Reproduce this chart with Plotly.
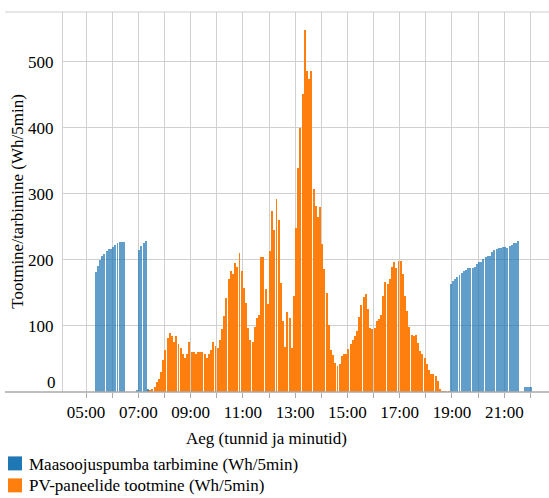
import plotly.graph_objects as go
import pandas as pd

DAY = "2021-06-01"

# --- Data: values every 5 minutes (Wh/5min) ---
# Heat pump consumption, in contiguous blocks (start time, values)
heat_block1_start = "05:20"
heat_block1 = [182, 190, 199, 206, 209, 214, 217, 217, 220, 222, 225, 227, 227, 227]
heat_block2_start = "06:55"
heat_block2 = [3, 215, 221, 226, 228, 4]
heat_block3_start = "18:55"
heat_block3 = [164, 168, 171, 174, 177, 180, 183, 185, 187, 188, 188, 189, 194, 197, 197, 201,
               204, 206, 206, 212, 215, 217, 218, 218, 220, 220, 218, 221, 223, 226, 226, 229]
heat_block4_start = "21:45"
heat_block4 = [8, 8, 8, 8]

# PV production starting 07:20
pv_start = "07:20"
pv_values = [3, 3, 4, 7, 15, 19, 31, 48, 63, 81, 90, 85, 75, 84, 72, 66, 57, 51, 57, 76,
             61, 60, 58, 61, 60, 60, 57, 52, 58, 64, 75, 70, 67, 79, 96, 115, 142, 171, 183, 179,
             195, 189, 210, 183, 158, 134, 97, 79, 76, 99, 112, 117, 204, 205, 156, 133,
             214, 274, 245, 292, 260, 165, 107, 68, 121, 112, 66, 146,
             248, 339, 399, 451, 548, 486, 474, 486, 307, 281, 265, 280,
             224, 186, 150, 102, 64, 56, 44, 40, 43, 55, 58, 58,
             65, 73, 78, 85, 93, 114, 131, 144, 149, 126, 97, 96,
             97, 108, 111, 116, 145, 166, 164, 171, 189, 196, 187, 198,
             198, 179, 145, 122, 98, 87, 84, 86, 74, 62, 58, 51,
             43, 34, 28, 28, 24, 16, 4, 2, 1, 1, 1]

hour_ticks = list(range(5, 23))
label_hours = [5, 7, 9, 11, 13, 15, 17, 19, 21]
y_ticks = [100, 200, 300, 400, 500]

heat_label = "Maasoojuspumba tarbimine (Wh/5min)"
pv_label = "PV-paneelide tootmine (Wh/5min)"
x_title = "Aeg (tunnid ja minutid)"
y_title = "Tootmine/tarbimine (Wh/5min)"

BLUE = "#1f77b4"
ORANGE = "#ff7f0e"
FONT = "Liberation Serif, Times New Roman, Times, DejaVu Serif, serif"
FS = 17


def block_times(start, n):
    return pd.date_range(f"{DAY} {start}", periods=n, freq="5min")


heat_x, heat_y = [], []
for s, vals in [(heat_block1_start, heat_block1), (heat_block2_start, heat_block2),
                (heat_block3_start, heat_block3), (heat_block4_start, heat_block4)]:
    heat_x += list(block_times(s, len(vals)))
    heat_y += vals
pv_x = list(block_times(pv_start, len(pv_values)))

W, H = 549, 498
L, R, T, B = 63, 549, 12, 392.5


def px(xp):
    return (xp - L) / (R - L)


def py(yp):
    return (B - yp) / (B - T)


FIVE_MIN_MS = 5 * 60 * 1000

fig = go.Figure()
fig.add_trace(go.Bar(x=pv_x, y=pv_values, name=pv_label, marker_color=ORANGE,
                     marker_line_width=0, width=FIVE_MIN_MS * 0.9, offset=0, showlegend=False))
fig.add_trace(go.Bar(x=heat_x, y=heat_y, name=heat_label, marker_color=BLUE, opacity=0.7,
                     marker_line_width=0, width=FIVE_MIN_MS * 0.9, offset=0, showlegend=False))

tickvals = [pd.Timestamp(f"{DAY} {h:02d}:00") for h in hour_ticks]
ticktext = [f"{h:02d}:00" if h in label_hours else "" for h in hour_ticks]

fig.update_layout(
    width=W, height=H,
    margin=dict(l=L, r=W - R, t=T, b=H - B, pad=0),
    paper_bgcolor="white", plot_bgcolor="white",
    barmode="overlay", bargap=0,
    font=dict(family=FONT, size=FS, color="#000"),
    xaxis=dict(
        type="date",
        range=[pd.Timestamp(f"{DAY} 04:07:12"), pd.Timestamp(f"{DAY} 22:42:40")],
        tickvals=tickvals, ticktext=ticktext,
        showgrid=True, gridcolor="#d0d0d0", gridwidth=1,
        ticks="outside", ticklen=5, tickcolor="#aaaaaa",
        showline=False, zeroline=False,
        tickfont=dict(family=FONT, size=FS, color="#000"),
    ),
    yaxis=dict(
        range=[0, 575], tickvals=y_ticks,
        showgrid=True, gridcolor="#d0d0d0", gridwidth=1,
        showline=True, linecolor="#d0d0d0", linewidth=1,
        ticks="", ticklabelstandoff=5, zeroline=False,
        tickfont=dict(family=FONT, size=FS, color="#000"),
    ),
    shapes=[
        dict(type="line", xref="paper", yref="paper", x0=px(5), x1=1, y0=py(12), y1=py(12),
             line=dict(color="#cccccc", width=1)),
        dict(type="line", xref="paper", yref="paper", x0=px(5), x1=1, y0=0, y1=0,
             line=dict(color="#aaaaaa", width=1.5)),
        dict(type="rect", xref="paper", yref="paper", x0=px(8), x1=px(22), y0=py(471), y1=py(457),
             fillcolor=BLUE, line_width=0),
        dict(type="rect", xref="paper", yref="paper", x0=px(8), x1=px(22), y0=py(493), y1=py(479),
             fillcolor=ORANGE, line_width=0),
    ],
    annotations=[
        dict(text="0", xref="paper", yref="paper", x=px(58), y=py(383), xanchor="right",
             yanchor="middle", showarrow=False, font=dict(size=FS)),
        dict(text=y_title, xref="paper", yref="paper", x=px(18), y=py(202), xanchor="center",
             yanchor="middle", textangle=-90, showarrow=False, font=dict(size=FS)),
        dict(text=x_title, xref="paper", yref="paper", x=px(266), y=py(439), xanchor="center",
             yanchor="middle", showarrow=False, font=dict(size=FS)),
        dict(text=heat_label, xref="paper", yref="paper", x=px(27), y=py(465), xanchor="left",
             yanchor="middle", showarrow=False, font=dict(size=FS)),
        dict(text=pv_label, xref="paper", yref="paper", x=px(27), y=py(486), xanchor="left",
             yanchor="middle", showarrow=False, font=dict(size=FS)),
    ],
)

fig.write_html(
    "out.html",
    config={"displayModeBar": False, "staticPlot": True},
    post_script="document.body.style.margin='0px';document.body.style.overflow='hidden';",
)
